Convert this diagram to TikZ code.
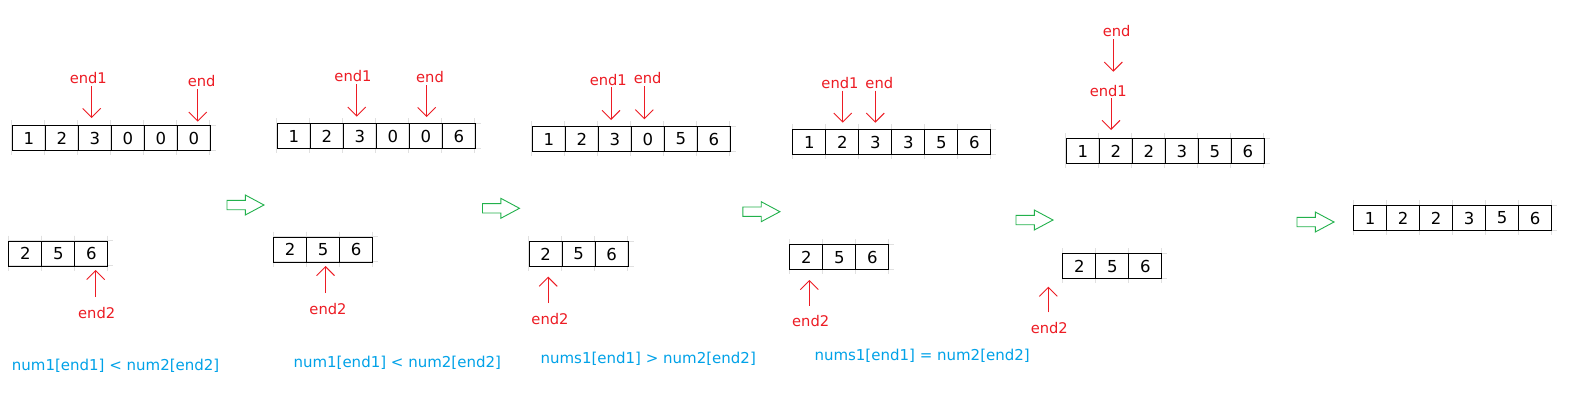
\documentclass[tikz,border=0pt]{standalone}
\usepackage{fontspec}
\setmainfont{DejaVu Sans}
\usetikzlibrary{arrows.meta}
\definecolor{pred}{HTML}{ED1C24}
\definecolor{pgreen}{HTML}{22B14C}
\definecolor{pblue}{HTML}{00A2E8}

\begin{document}
\begin{tikzpicture}[x=1pt,y=-1pt]
		\tikzset{
  cell/.style={
         draw=black, line width=1.1pt,
         minimum width=33pt,
         minimum height=25pt,
         inner sep=0,
         anchor=north west,
         font=\fontsize{16.5}{18}\selectfont,
         },
  stub/.style={draw=black!12, line width=0.6pt},
  ptr/.style={draw=pred, line width=0.9pt,
         -{Straight Barb[length=9pt,width=18pt]}},
  ptrup/.style={ptr, shorten <=7.5pt},
  lbl/.style={text=pred, anchor=base, inner sep=2pt,
         font=\fontsize{14.7}{16}\selectfont},
  cond/.style={text=pblue, anchor=base west, inner sep=0,
         font=\fontsize{15}{16}\selectfont},
  flow/.style={draw=pgreen, line width=0.9pt},
}

    \useasboundingbox[fill=white] (0,0) rectangle (1587,412);

    \def\arrays{g1t/11.7/125/{1,2,3,0,0,0}, g1b/8.3/240.7/{2,5,6},
      g2t/276.7/123.3/{1,2,3,0,0,6}, g2b/273/236.5/{2,5,6},
      g3t/531.7/126/{1,2,3,0,5,6}, g3b/528.6/241/{2,5,6},
      g4t/792.3/129.3/{1,2,3,3,5,6}, g4b/789.3/244.3/{2,5,6},
      g5t/1065.7/138.3/{1,2,2,3,5,6}, g5b/1062.3/253.3/{2,5,6},
      fin/1353/205/{1,2,2,3,5,6}}

    % faint grid lines behind the arrays
    \foreach \nm/\x/\y/\vals in \arrays {
      \foreach \v [count=\i] in \vals {
        \draw[stub] ({\x+33*(\i-1)},\y-5) -- ++(0,35);
        \draw[stub] ({\x+33*\i},\y-5) -- ++(0,35);
        \draw[stub] ({\x+33*(\i-1)},\y) -- ++(39,0);
        \draw[stub] ({\x+33*(\i-1)},\y+25) -- ++(39,0);
      }
    }

    % the arrays
    \foreach \nm/\x/\y/\vals in \arrays {
      \foreach \v [count=\i] in \vals
        \node[cell] (\nm-\i) at ({\x+33*(\i-1)},\y) {\v};
    }

    % step 1
    \coordinate (g1p1) at (91.7,118);
    \coordinate (g1p) at (197.7,121.7);
    \coordinate (g1p2) at (95.7,270);
    \node[lbl] (g1e1) at (88.3,84) {end1};
    \node[lbl] (g1e) at (201.7,86.7) {end};
    \node[lbl] (g1e2) at (96.7,318) {end2};
    \draw[ptr] (g1e1.south -| g1p1) -- (g1p1);
    \draw[ptr] (g1e.south -| g1p) -- (g1p);
    \draw[ptrup] (g1e2.north -| g1p2) -- (g1p2);

    % step 2
    \coordinate (g2p1) at (356.7,116.7);
    \coordinate (g2p) at (426.7,117);
    \coordinate (g2p2) at (325.5,266);
    \node[lbl] (g2e1) at (353,81.7) {end1};
    \node[lbl] (g2e) at (430,82.7) {end};
    \node[lbl] (g2e2) at (328,314) {end2};
    \draw[ptr] (g2e1.south -| g2p1) -- (g2p1);
    \draw[ptr] (g2e.south -| g2p) -- (g2p);
    \draw[ptrup] (g2e2.north -| g2p2) -- (g2p2);

    % step 3
    \coordinate (g3p1) at (611,120);
    \coordinate (g3p) at (644.3,119.3);
    \coordinate (g3p2) at (548.2,276.7);
    \node[lbl] (g3e1) at (608.3,85) {end1};
    \node[lbl] (g3e) at (647.7,84) {end};
    \node[lbl] (g3e2) at (550,324) {end2};
    \draw[ptr] (g3e1.south -| g3p1) -- (g3p1);
    \draw[ptr] (g3e.south -| g3p) -- (g3p);
    \draw[ptrup] (g3e2.north -| g3p2) -- (g3p2);

    % step 4
    \coordinate (g4p1) at (842.7,122.7);
    \coordinate (g4p) at (875.3,122.7);
    \coordinate (g4p2) at (809.3,280);
    \node[lbl] (g4e1) at (840,88.3) {end1};
    \node[lbl] (g4e) at (879.3,88.3) {end};
    \node[lbl] (g4e2) at (810.7,326.7) {end2};
    \draw[ptr] (g4e1.south -| g4p1) -- (g4p1);
    \draw[ptr] (g4e.south -| g4p) -- (g4p);
    \draw[ptrup] (g4e2.north -| g4p2) -- (g4p2);

    % step 5
    \coordinate (g5p) at (1113.3,71.7);
    \coordinate (g5p1) at (1111,130);
    \coordinate (g5p2) at (1048.3,286.7);
    \node[lbl] (g5e) at (1116.7,36.7) {end};
    \node[lbl] (g5e1) at (1108.3,96) {end1};
    \node[lbl] (g5e2) at (1049.3,333.3) {end2};
    \draw[ptr] (g5e.south -| g5p) -- (g5p);
    \draw[ptr] (g5e1.south -| g5p1) -- (g5p1);
    \draw[ptrup] (g5e2.north -| g5p2) -- (g5p2);

    % hollow arrows between the steps
    \foreach \x/\y in {227/205, 482.5/208.3, 742.9/211.7, 1016/220, 1297/222}
      \draw[flow] (\x,\y-4.7) -- ++(18.3,0) -- ++(0,-5.3) -- ++(18.7,10)
        -- ++(-18.7,10) -- ++(0,-5.3) -- ++(-18.3,0) -- cycle;

    % comparisons
    \node[cond] (c1) at (11.7,370) {num1[end1] < num2[end2]};
    \node[cond] (c2) at (293.3,367) {num1[end1] < num2[end2]};
    \node[cond] (c3) at (540.4,363.7) {nums1[end1] > num2[end2]};
    \node[cond] (c4) at (814.3,360) {nums1[end1] = num2[end2]};

\end{tikzpicture}
\end{document}
